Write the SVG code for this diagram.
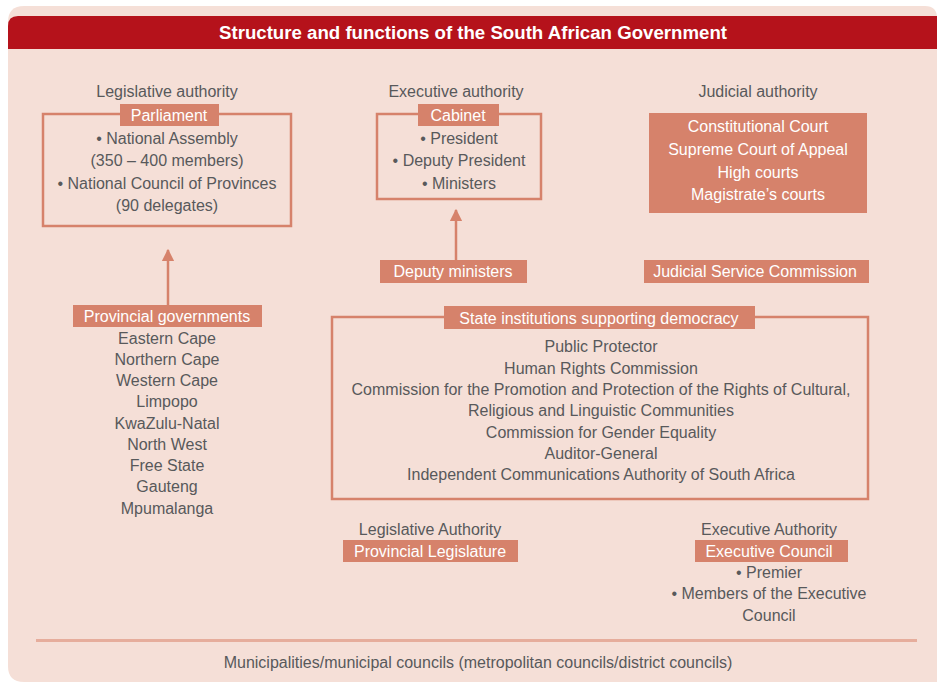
<svg xmlns="http://www.w3.org/2000/svg" width="937" height="682" viewBox="0 0 937 682">
<defs>
<style>
.t{font-family:"Liberation Sans",Arial,sans-serif;font-size:16px;fill:#58595b;text-anchor:middle}
.w{font-family:"Liberation Sans",Arial,sans-serif;font-size:16px;fill:#ffffff;text-anchor:middle}
.lab{fill:#d6826b}
.box{fill:none;stroke:#d6826b;stroke-width:2.5}
.conn{stroke:#d6826b;stroke-width:2.5;fill:none}
</style>
<marker id="ah" viewBox="0 0 10 10" refX="9" refY="5" markerWidth="5" markerHeight="5" orient="auto" markerUnits="strokeWidth">
<path d="M0,0 L10,5 L0,10 z" fill="#d6826b"/>
</marker>
</defs>
<rect x="0" y="0" width="937" height="682" fill="#ffffff"/>
<path d="M8,22 Q8,6 24,6 L925,6 Q937,6 937,18 L937,682 L24,682 Q8,682 8,666 Z" fill="#f5dfd7"/>
<path d="M8,26 Q8,16 18,16 L937,16 L937,49 L8,49 Z" fill="#b5121b"/>
<text x="473" y="38.5" font-family="'Liberation Sans',Arial,sans-serif" font-size="17.5" font-weight="bold" fill="#ffffff" text-anchor="middle" textLength="508" lengthAdjust="spacingAndGlyphs">Structure and functions of the South African Government</text>

<g id="connectors">
<line class="conn" x1="168" y1="305" x2="168" y2="250" marker-end="url(#ah)"/>
<line class="conn" x1="456" y1="260" x2="456" y2="210" marker-end="url(#ah)"/>
</g>

<g id="parliament">
<text class="t" x="167" y="97">Legislative authority</text>
<rect class="box" x="43" y="114" width="248" height="112"/>
<rect class="lab" x="120" y="104" width="99" height="22"/>
<text class="w" x="169" y="120.5">Parliament</text>
<text class="t" x="167" y="143.5">• National Assembly</text>
<text class="t" x="167" y="165.5">(350 – 400 members)</text>
<text class="t" x="167" y="188.5">• National Council of Provinces</text>
<text class="t" x="167" y="210.5">(90 delegates)</text>
</g>

<g id="cabinet">
<text class="t" x="456" y="97">Executive authority</text>
<rect class="box" x="377" y="114" width="164" height="85"/>
<rect class="lab" x="418" y="104" width="81" height="22"/>
<text class="w" x="458" y="120.5">Cabinet</text>
<text class="t" x="459" y="143.5">• President</text>
<text class="t" x="459" y="165.5">• Deputy President</text>
<text class="t" x="459" y="188.5">• Ministers</text>
</g>

<g id="judicial">
<text class="t" x="758" y="97">Judicial authority</text>
<rect class="lab" x="649" y="113" width="218" height="100"/>
<text class="w" x="758" y="131.5">Constitutional Court</text>
<text class="w" x="758" y="154.5">Supreme Court of Appeal</text>
<text class="w" x="758" y="177.5">High courts</text>
<text class="w" x="758" y="199.5">Magistrate’s courts</text>
</g>

<g id="deputy-ministers">
<rect class="lab" x="380" y="260" width="147" height="23"/>
<text class="w" x="453" y="277">Deputy ministers</text>
</g>

<g id="jsc">
<rect class="lab" x="644" y="260" width="225" height="23"/>
<text class="w" x="755" y="277">Judicial Service Commission</text>
</g>

<g id="provincial-governments">
<rect class="lab" x="73" y="305" width="189" height="22"/>
<text class="w" x="167" y="322">Provincial governments</text>
<text class="t" x="167" y="343.5">Eastern Cape</text>
<text class="t" x="167" y="364.5">Northern Cape</text>
<text class="t" x="167" y="386">Western Cape</text>
<text class="t" x="167" y="407">Limpopo</text>
<text class="t" x="167" y="428.5">KwaZulu-Natal</text>
<text class="t" x="167" y="449.5">North West</text>
<text class="t" x="167" y="471">Free State</text>
<text class="t" x="167" y="492">Gauteng</text>
<text class="t" x="167" y="513.5">Mpumalanga</text>
</g>

<g id="state-institutions">
<rect class="box" x="332" y="317" width="536" height="182"/>
<rect class="lab" x="444" y="306" width="311" height="23"/>
<text class="w" x="599" y="323.5">State institutions supporting democracy</text>
<text class="t" x="601" y="351.5">Public Protector</text>
<text class="t" x="601" y="373.5">Human Rights Commission</text>
<text class="t" x="601" y="394.5">Commission for the Promotion and Protection of the Rights of Cultural,</text>
<text class="t" x="601" y="415.5">Religious and Linguistic Communities</text>
<text class="t" x="601" y="437.5">Commission for Gender Equality</text>
<text class="t" x="601" y="458.5">Auditor-General</text>
<text class="t" x="601" y="479.5">Independent Communications Authority of South Africa</text>
</g>

<g id="provincial-legislature">
<text class="t" x="430" y="534.5">Legislative Authority</text>
<rect class="lab" x="343" y="540" width="175" height="22"/>
<text class="w" x="430" y="557">Provincial Legislature</text>
</g>

<g id="executive-council">
<text class="t" x="769" y="534.5">Executive Authority</text>
<rect class="lab" x="695" y="540" width="153" height="22"/>
<text class="w" x="769" y="557">Executive Council</text>
<text class="t" x="769" y="577.5">• Premier</text>
<text class="t" x="769" y="598.5">• Members of the Executive</text>
<text class="t" x="769" y="620.5">Council</text>
</g>

<line x1="36" y1="640.5" x2="917" y2="640.5" stroke="#e6ad9c" stroke-width="3"/>

<g id="municipalities">
<text class="t" x="478" y="667.5">Municipalities/municipal councils (metropolitan councils/district councils)</text>
</g>
</svg>
